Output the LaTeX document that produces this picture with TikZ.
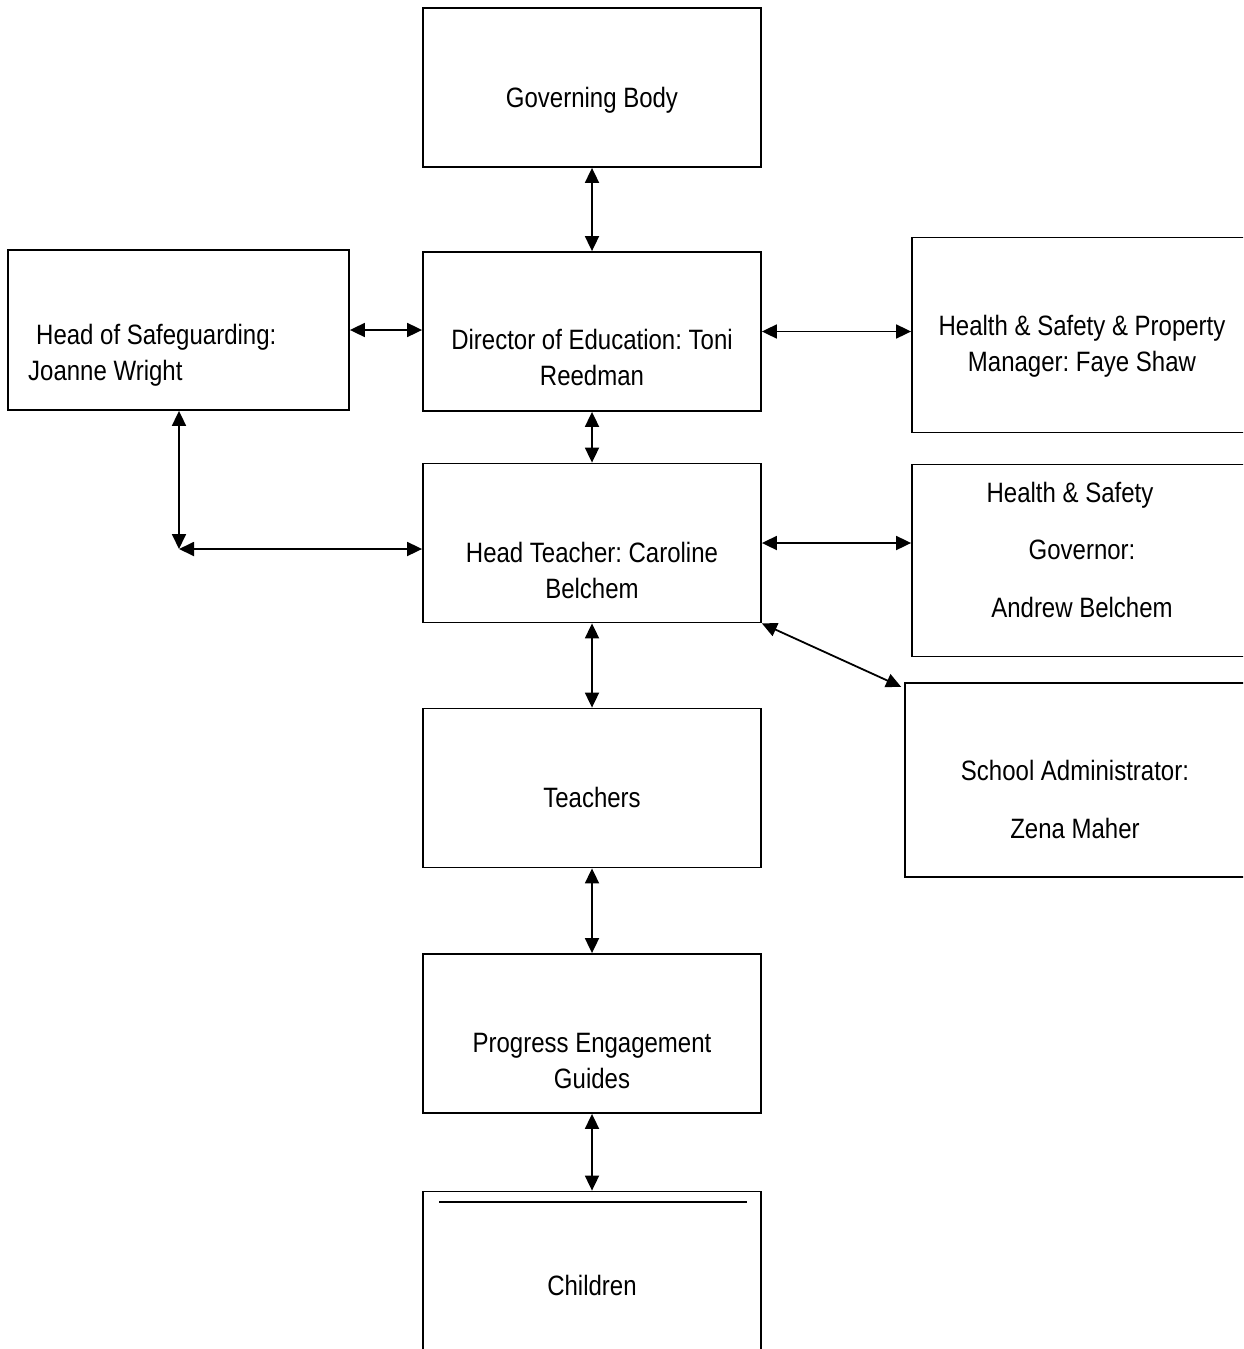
\documentclass[tikz,border=0pt]{standalone}
\usepackage{fontspec}
\setmainfont{Liberation Sans}[FakeStretch=0.857]
\usetikzlibrary{arrows.meta}
\frenchspacing

\begin{document}
\begin{tikzpicture}
[x=1pt,y=-1pt,
  boxDecorate/.style={shape=rectangle,draw,line width=1.8pt,inner sep=0pt,minimum width=338pt,minimum height=159pt},%
  textDecorate/.style={anchor=base,inner sep=0pt,align=center,font=\fontsize{28}{35.5}\selectfont},%
  wideDecorate/.style={textDecorate,font=\fontsize{28}{57.5}\selectfont},%
  lineDecorate/.style={{Triangle[length=15pt,width=14pt]}-{Triangle[length=15pt,width=14pt]},line width=1.8pt}]
\useasboundingbox (0,0) rectangle (1243,1349);
\clip (0,0) rectangle (1243,1349);
%% boxes of the middle column
\foreach \nodename/\y in {gb/87.5, dir/331.5, ht/543, tch/788, peg/1033.5, kids/1271}
{
  \node (\nodename) at (592,\y) [boxDecorate] {};
}
%% boxes at the sides
\node (sg) at (178.5,330) [boxDecorate,minimum width=341pt,minimum height=160pt] {};
\node (prop) at (1082,335) [boxDecorate,minimum width=340pt,minimum height=195pt] {};
\node (gov) at (1082,560.5) [boxDecorate,minimum width=340pt,minimum height=192pt] {};
\node (adm) at (1075,779.7) [boxDecorate,minimum width=340pt,minimum height=194pt] {};
\draw[line width=1.8pt] ([shift={(17pt,-11pt)}]kids.north west) -- ([shift={(-15pt,-11pt)}]kids.north east);
%% texts (placed at the baseline of their last line)
\foreach \nodename/\y/\txt in {
  gbtxt/107/{Governing Body}, dirtxt/385/{Director of Education: Toni\\Reedman},
  httxt/598/{Head Teacher: Caroline\\Belchem}, tchtxt/807/{Teachers},
  pegtxt/1088/{Progress Engagement\\Guides}, kidstxt/1295/{Children}}
{
  \node (\nodename) at (592,\y) [textDecorate] {\txt};
}
\node (sgtxt) at (28,380) [textDecorate,anchor=base west,align=left] {\hspace*{8pt}Head of Safeguarding:\\Joanne Wright};
\node (proptxt) at (1082,371) [textDecorate] {Health \& Safety \& Property\\Manager: Faye Shaw};
\node (govtxt) at (1082,617) [wideDecorate] {Health \& Safety\kern24pt\\Governor:\\Andrew Belchem};
\node (admtxt) at (1075,838) [wideDecorate] {School Administrator:\\Zena Maher};
%% connectors
\coordinate (sgbend) at (179,549);
\path
\foreach \startnode/\endnode in {gb/dir, dir/ht, ht/tch, tch/peg, peg/kids}
{
  (\startnode) edge[lineDecorate] (\endnode)
};
\draw[lineDecorate] (sg.east) -- (sg.east -| dir.west);
\draw[lineDecorate] (dir.east) -- (dir.east -| prop.west);
\draw[lineDecorate] (ht.east) -- (ht.east -| gov.west);
\draw[lineDecorate] (sg.south -| sgbend) -- (sgbend);
\draw[lineDecorate] (sgbend) -- (sgbend -| ht.west);
\draw[lineDecorate] (ht.south east) -- ([shift={(-3pt,-5pt)}]adm.north west);
\end{tikzpicture}
\end{document}
